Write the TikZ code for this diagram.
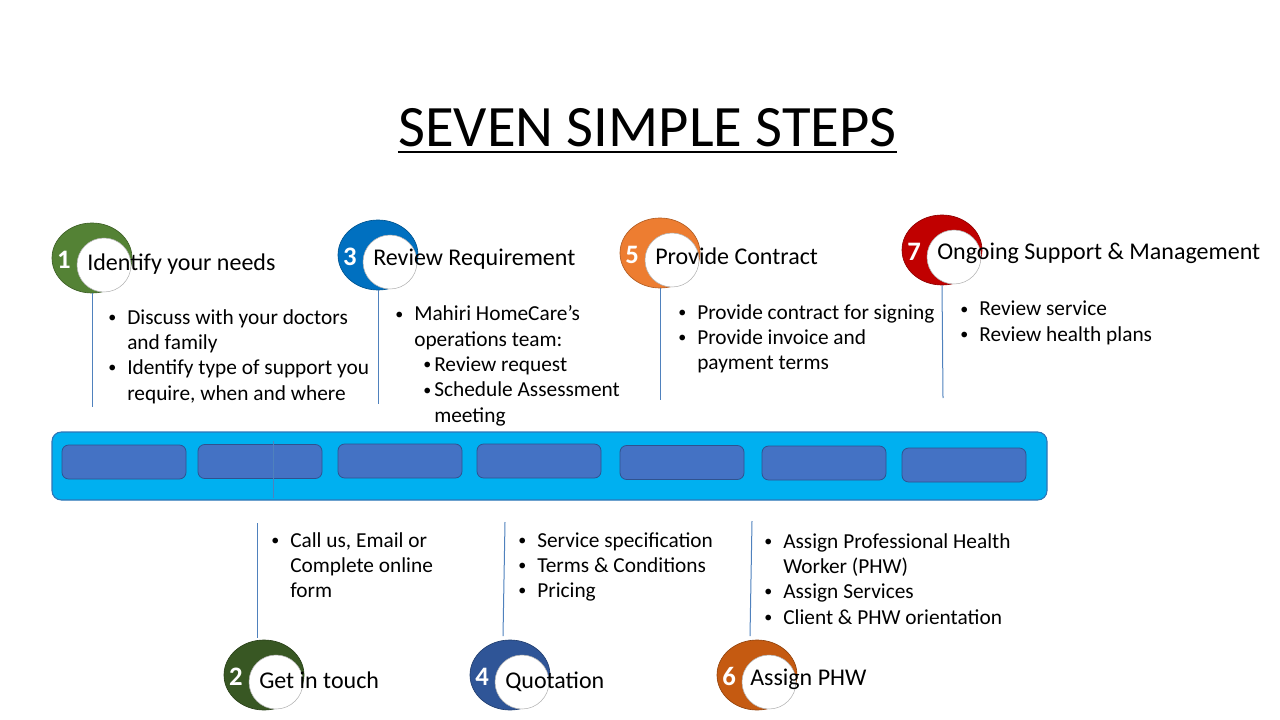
\documentclass[tikz,border=0pt]{standalone}
\usepackage{fontspec}
\setmainfont{Carlito}
\usetikzlibrary{shapes.geometric}
\definecolor{stepa}{HTML}{548235}
\definecolor{stepb}{HTML}{385723}
\definecolor{stepc}{HTML}{0070C0}
\definecolor{stepd}{HTML}{2F5597}
\definecolor{stepe}{HTML}{ED7D31}
\definecolor{stepf}{HTML}{C55A11}
\definecolor{stepg}{HTML}{C00000}
\definecolor{barfill}{HTML}{00B0F0}
\definecolor{barline}{HTML}{2E75B6}
\definecolor{slot}{HTML}{4472C4}
\definecolor{slotline}{HTML}{2F528F}
\definecolor{linkc}{HTML}{4F81BD}
\newcommand\dotmark{\raisebox{.08em}{\scalebox{.75}{\textbullet}}}
\newcommand\stepbul{\makebox[14.25pt][l]{\dotmark}}
\newcommand\stepind{\hspace*{14.25pt}}
\newcommand\subbul{\hspace*{21pt}\makebox[8.25pt][l]{\dotmark}}
\newcommand\subind{\hspace*{29.25pt}}
\tikzset{
  ring/.style={ellipse,fill=#1,draw=#1!75!black,line width=.5pt,
    minimum width=60pt,minimum height=52.5pt,inner sep=0},
  hole/.style={circle,fill=white,draw=black!30,line width=.4pt,
    minimum size=40.5pt,inner sep=0},
  num/.style={anchor=base,text=white,inner sep=0,
    font=\fontsize{20}{22}\selectfont\bfseries},
  head/.style={anchor=base west,inner sep=0,font=\fontsize{18}{21}\selectfont},
  txt/.style={anchor=base west,inner sep=0,align=left,
    font=\fontsize{16}{19}\selectfont},
  slotbox/.style={rectangle,rounded corners=5pt,fill=slot,draw=slotline,
    line width=.6pt,minimum width=93pt,minimum height=25.5pt},
  bar/.style={rectangle,rounded corners=7pt,fill=barfill,draw=barline,
    line width=.8pt,minimum width=746.25pt,minimum height=51pt},
  conn/.style={draw=linkc,line width=.75pt}}
\begin{document}
\begin{tikzpicture}[x=.75pt,y=-.75pt]
\useasboundingbox (0,0) rectangle (1280,720);
% title
\node[anchor=base,inner sep=0,font=\fontsize{44}{50}\selectfont] (ttl) at (647.5,147) {SEVEN SIMPLE STEPS};
\draw[line width=2pt] ([yshift=-3.75pt]ttl.base west) -- ([yshift=-3.75pt]ttl.base east);
% timeline bar
\node[bar] (bar) at (549.5,466) {};
\foreach \i/\x/\y in {1/124/462,2/260/461.5,3/400/461,4/539/461,5/682/462.5,6/824/463,7/964/465}
  \node[slotbox] (b\i) at (\x,\y) {};
\coordinate (m1) at (273,441); \coordinate (m2) at (273,498);
\draw[conn] (m1) -- (m2);
% step markers
\foreach \i/\x/\y/\c in {1/92/258/stepa,2/264/675/stepb,3/378/255/stepc,4/510/675/stepd,
  5/660/253/stepe,6/757/675/stepf,7/942/250/stepg}{
  \node[ring=\c] (r\i) at (\x,\y) {};
  \node[hole] (h\i) at (\x+12,\y+7) {};
  \node[num] (n\i) at (\x-28,\y+10) {\i};}
% connectors
\coordinate (e1) at (92,407);
\coordinate (e3) at (378,404);
\coordinate (e5) at (660,400);
\coordinate (e7) at (943,398);
\draw[conn] (r1.south) -- (e1);
\draw[conn] (r3.south) -- (e3);
\draw[conn] (r5.south) -- (e5);
\draw[conn] (r7.south) -- (e7);
\coordinate (s2) at (257,523); \coordinate (f2) at (257,638);
\coordinate (s4) at (505,522); \coordinate (f4) at (503,636);
\coordinate (s6) at (752,521); \coordinate (f6) at (750,636);
\draw[conn] (s2) -- (f2);
\draw[conn] (s4) -- (f4);
\draw[conn] (s6) -- (f6);
% headings
\foreach \i/\x/\y/\t in {1/87/270/{Identify your needs},3/373/265/{Review Requirement},
  5/655/264/{Provide Contract},7/937/259/{Ongoing Support \& Management},
  2/259/688/{Get in touch},4/505/688/{Quotation},6/750/685/{Assign PHW}}
  \node[head] (t\i) at (\x,\y) {\t};
% details (anchored on the last line)
\node[txt] (d1) at (108,400) {\stepbul Discuss with your doctors\\\stepind and family\\
  \stepbul Identify type of support you\\\stepind require, when and where};
\node[txt] (d3) at (395,422.3) {\stepbul Mahiri HomeCare’s\\\stepind operations team:\\
  \subbul Review request\\\subbul Schedule Assessment\\\subind meeting};
\node[txt] (d5) at (678,369.7) {\stepbul Provide contract for signing\\
  \stepbul Provide invoice and\\\stepind payment terms};
\node[txt] (d7) at (960,341.3) {\stepbul Review service\\\stepbul Review health plans};
\node[txt] (d2) at (271,597.7) {\stepbul Call us, Email or\\\stepind Complete online\\\stepind form};
\node[txt] (d4) at (518,597.7) {\stepbul Service specification\\\stepbul Terms \& Conditions\\\stepbul Pricing};
\node[txt] (d6) at (764,624) {\stepbul Assign Professional Health\\\stepind Worker (PHW)\\
  \stepbul Assign Services\\\stepbul Client \& PHW orientation};
\end{tikzpicture}
\end{document}
